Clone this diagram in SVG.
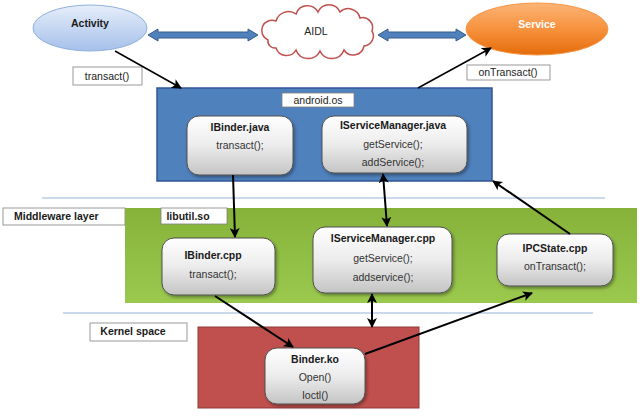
<svg xmlns="http://www.w3.org/2000/svg" width="640" height="418" viewBox="0 0 640 418">
<defs>
<linearGradient id="gNode" x1="0" y1="0" x2="0" y2="1"><stop offset="0" stop-color="#ffffff"/><stop offset="0.5" stop-color="#ececec"/><stop offset="1" stop-color="#c4c4c4"/></linearGradient>
<linearGradient id="gAct" x1="0" y1="0" x2="0" y2="1"><stop offset="0" stop-color="#e6eefa"/><stop offset="1" stop-color="#a5c0ea"/></linearGradient>
<linearGradient id="gSvc" x1="0" y1="0" x2="0" y2="1"><stop offset="0" stop-color="#fbb476"/><stop offset="0.5" stop-color="#f7923e"/><stop offset="1" stop-color="#e46c0a"/></linearGradient>
<linearGradient id="gGreen" x1="0" y1="0" x2="0" y2="1"><stop offset="0" stop-color="#86b23a"/><stop offset="1" stop-color="#9bc94e"/></linearGradient>
<filter id="sh" x="-10%" y="-10%" width="130%" height="130%"><feDropShadow dx="1.5" dy="2" stdDeviation="1.5" flood-color="#000" flood-opacity="0.35"/></filter>
<marker id="ah" viewBox="0 0 10 10" refX="9" refY="5" markerWidth="10" markerHeight="10" markerUnits="userSpaceOnUse" orient="auto-start-reverse"><path d="M0,0 L10,5 L0,10 L2.5,5 z" fill="#000"/></marker>
</defs>
<style>
text{font-family:"Liberation Sans",Arial,sans-serif;font-size:10.5px;fill:#333;text-anchor:middle}
.b{font-weight:bold;fill:#1a1a1a}
.node{fill:url(#gNode);stroke:#505050;stroke-width:1;filter:url(#sh)}
.lbl{fill:#fff;stroke:#7f7f7f;stroke-width:0.8}
.sep{stroke:#b8cce4;stroke-width:1.5}
.con{stroke:#000;stroke-width:2;fill:none}
.thin{stroke-width:1.5}
.barrow{fill:#4f81bd;stroke:#385d8a;stroke-width:1}
</style>
<rect width="640" height="418" fill="#fff"/>

<line class="sep" x1="42" y1="198" x2="605" y2="198"/>
<line class="sep" x1="63" y1="313" x2="593" y2="313"/>

<g id="activity">
<ellipse cx="90" cy="28" rx="57" ry="23" fill="url(#gAct)" stroke="#8fb0dc" stroke-width="1"/>
<text class="b" x="90" y="27">Activity</text>
</g>
<g id="aidl">
<path d="M268,40 A10,10 0 0 1 276,21 A13,13 0 0 1 296,14 A12,12 0 0 1 318,12 A12,12 0 0 1 340,12 A12,12 0 0 1 360,18 A10,10 0 0 1 372,31 A10,10 0 0 1 364,46 A11,11 0 0 1 344,50 A13,13 0 0 1 320,51 A13,13 0 0 1 296,50 A11,11 0 0 1 276,48 A7,7 0 0 1 268,40 Z" fill="#fff" stroke="#c0504d" stroke-width="1.5"/>
<text x="316" y="35" style="fill:#222">AIDL</text>
</g>
<g id="service">
<ellipse cx="537" cy="29" rx="71" ry="26" fill="url(#gSvc)" stroke="#f79646" stroke-width="1"/>
<text class="b" x="537" y="28" style="fill:#fff">Service</text>
</g>

<g id="android-os">
<rect x="157" y="88" width="335" height="93" fill="#4f81bd" stroke="#2f5597" stroke-width="1.5"/>
<rect class="lbl" x="282" y="93" width="72" height="14"/>
<text x="318" y="104" style="fill:#222">android.os</text>
</g>
<g id="ibinder-java">
<rect class="node" x="187" y="116" width="106" height="59" rx="12"/>
<text class="b" x="240" y="131">IBinder.java</text>
<text x="240" y="149">transact();</text>
</g>
<g id="iservicemanager-java">
<rect class="node" x="322" y="116" width="145" height="57" rx="12"/>
<text class="b" x="393" y="129">IServiceManager.java</text>
<text x="393" y="148">getService();</text>
<text x="393" y="166">addService();</text>
</g>

<g id="middleware-label">
<rect class="lbl" x="3" y="208" width="122" height="17"/>
<text class="b" x="14" y="220" style="text-anchor:start">Middleware layer</text>
</g>
<g id="libutil">
<rect x="125" y="208" width="512" height="95" fill="url(#gGreen)"/>
<rect class="lbl" x="161" y="208" width="66" height="16"/>
<text class="b" x="188" y="220">libutil.so</text>
</g>
<g id="ibinder-cpp">
<rect class="node" x="162" y="238" width="113" height="57" rx="12"/>
<text class="b" x="213" y="259">IBinder.cpp</text>
<text x="213" y="278">transact();</text>
</g>
<g id="iservicemanager-cpp">
<rect class="node" x="313" y="227" width="139" height="66" rx="12"/>
<text class="b" x="383" y="242">IServiceManager.cpp</text>
<text x="383" y="262">getService();</text>
<text x="383" y="281">addservice();</text>
</g>
<g id="ipcstate-cpp">
<rect class="node" x="497" y="234" width="116" height="52" rx="12"/>
<text class="b" x="555" y="252">IPCState.cpp</text>
<text x="555" y="270">onTransact();</text>
</g>

<g id="kernel-label">
<rect class="lbl" x="90" y="323" width="97" height="18"/>
<text class="b" x="133" y="335">Kernel space</text>
</g>
<g id="kernel">
<rect x="198" y="327" width="221" height="81" fill="#c0504d" stroke="#8c3a38" stroke-width="1"/>
</g>
<g id="binder-ko">
<rect class="node" x="265" y="348" width="100" height="56" rx="12"/>
<text class="b" x="315" y="363">Binder.ko</text>
<text x="315" y="381">Open()</text>
<text x="315" y="399">Ioctl()</text>
</g>

<g id="transact-label">
<rect class="lbl" x="73" y="67" width="69" height="18"/>
<text x="107" y="80" style="fill:#222">transact()</text>
</g>
<g id="ontransact-label">
<rect class="lbl" x="467" y="65" width="83" height="15"/>
<text x="508" y="76" style="fill:#222">onTransact()</text>
</g>

<g id="connectors">
<polygon class="barrow" points="148,35 158,29 158,32 248,32 248,29 258,35 248,41 248,38 158,38 158,41"/>
<polygon class="barrow" points="378,35 388,29 388,32 456,32 456,29 466,35 456,41 456,38 388,38 388,41"/>
<line class="con thin" x1="115" y1="51" x2="181" y2="88" marker-end="url(#ah)"/>
<line class="con thin" x1="418" y1="88" x2="491" y2="48" marker-end="url(#ah)"/>
<line class="con" x1="233" y1="175" x2="235" y2="237" marker-end="url(#ah)"/>
<line class="con" x1="383" y1="174" x2="387" y2="226" marker-start="url(#ah)" marker-end="url(#ah)"/>
<line class="con" x1="570" y1="234" x2="493" y2="181" marker-end="url(#ah)"/>
<line class="con" x1="215" y1="296" x2="293" y2="347" marker-end="url(#ah)"/>
<line class="con" x1="372" y1="294" x2="372" y2="327" marker-start="url(#ah)" marker-end="url(#ah)"/>
<line class="con" x1="365" y1="354" x2="532" y2="293" marker-end="url(#ah)"/>
</g>
</svg>
